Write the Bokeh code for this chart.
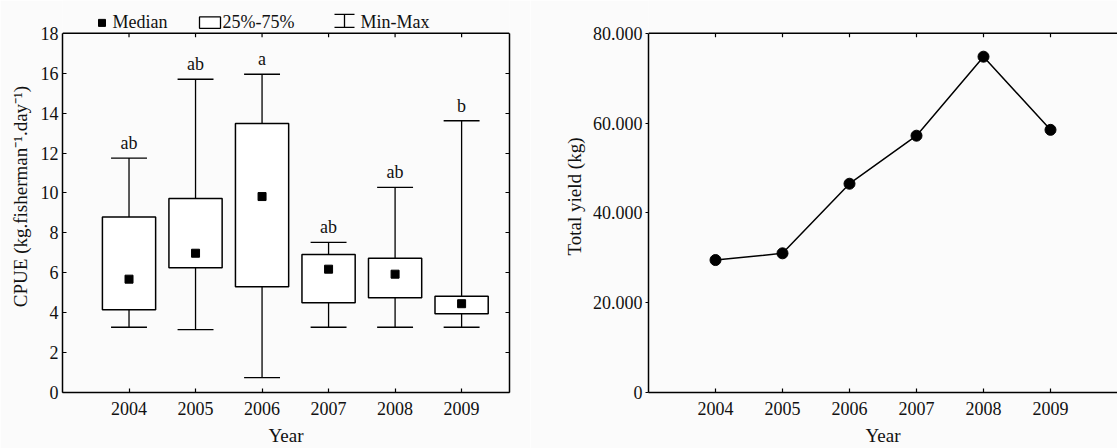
from bokeh.plotting import figure
from bokeh.models import Range1d, FixedTicker, LinearAxis, Span
from bokeh.layouts import row
from bokeh.embed import file_html
from bokeh.resources import INLINE
from bokeh.core.properties import value

# ---------------- data ----------------
years = [2004, 2005, 2006, 2007, 2008, 2009]
cpue_min = [3.27, 3.15, 0.75, 3.27, 3.27, 3.27]
cpue_q1 = [4.15, 6.25, 5.30, 4.50, 4.75, 3.95]
cpue_median = [5.68, 6.98, 9.82, 6.18, 5.93, 4.45]
cpue_q3 = [8.80, 9.72, 13.48, 6.92, 6.73, 4.82]
cpue_max = [11.75, 15.70, 15.95, 7.52, 10.28, 13.62]
groups = ["ab", "ab", "a", "ab", "ab", "b"]
cpue_ticks = [0, 2, 4, 6, 8, 10, 12, 14, 16, 18]
cpue_top = 18

total_yield = [29500, 31000, 46500, 57200, 74800, 58500]
yield_ticks = [0, 20000, 40000, 60000, 80000]
yield_tick_labels = ["0", "20.000", "40.000", "60.000", "80.000"]
yield_top = 80000

legend_labels = ["Median", "25%-75%", "Min-Max"]

FONT = "Liberation Serif"
BG = "#fbfbfb"
INK = "#111111"
TICK_FS = "18px"
LABEL_FS = "19px"

# layout geometry (pixels): frames run from the top of the canvas down to
# FRAME_H; the data box itself is closed at BOX_TOP.
FRAME_H = 394
BOX_TOP = 33
SCALE = FRAME_H / (FRAME_H - BOX_TOP)


def style_axis(ax, ticks, tin=4, tout=0, labels=True):
    ax.ticker = FixedTicker(ticks=ticks)
    ax.minor_tick_line_color = None
    ax.major_tick_in = tin
    ax.major_tick_out = tout
    ax.axis_line_color = "black"
    ax.axis_line_width = 1.5
    ax.major_tick_line_color = "black"
    ax.major_tick_line_width = 1.2
    ax.major_label_text_font = FONT
    ax.axis_label_text_font = FONT
    ax.axis_label_text_font_style = "normal"
    ax.axis_label_text_font_size = LABEL_FS
    ax.axis_label_text_color = INK
    if labels:
        ax.major_label_text_font_size = TICK_FS
        ax.major_label_text_color = INK
    else:
        ax.major_label_text_font_size = "0px"
        ax.major_label_text_color = None
        ax.major_label_standoff = 0


def close_top(p, top, tick_len):
    p.add_layout(Span(location=top, dimension="width", line_color="black", line_width=1.5))
    p.segment(x0=years, y0=[top] * len(years), x1=years, y1=[top - tick_len] * len(years),
              line_color="black", line_width=1.2)


# ---------------- left: CPUE box plot ----------------
p1 = figure(width=530, height=448, x_range=Range1d(2003, 2009.72),
            y_range=Range1d(0, cpue_top * SCALE),
            output_backend="svg", toolbar_location=None,
            min_border_left=62, min_border_right=21, min_border_top=0, min_border_bottom=54,
            background_fill_color=BG, border_fill_color=BG, outline_line_color=None)
p1.grid.visible = False
# pixel-like helper ranges for the legend row above the box
p1.extra_x_ranges = {"px": Range1d(62, 509)}
p1.extra_y_ranges = {"px": Range1d(FRAME_H, 0)}

style_axis(p1.xaxis[0], years)
p1.xaxis[0].major_label_standoff = 9
p1.xaxis[0].axis_label = "Year"
p1.xaxis[0].axis_label_standoff = 7
style_axis(p1.yaxis[0], cpue_ticks)
p1.yaxis[0].bounds = (0, cpue_top)
p1.yaxis[0].major_label_standoff = 4
p1.yaxis[0].axis_label = "CPUE (kg.fisherman\u207b\u00b9.day\u207b\u00b9)"
p1.yaxis[0].axis_label_standoff = 7
ax_r = LinearAxis()
style_axis(ax_r, cpue_ticks, labels=False)
ax_r.bounds = (0, cpue_top)
p1.add_layout(ax_r, "right")
close_top(p1, cpue_top, cpue_top * 4 / (FRAME_H - BOX_TOP))

cap = 0.27
p1.segment(x0=years, y0=cpue_min, x1=years, y1=cpue_q1, line_color="black", line_width=1.3)
p1.segment(x0=years, y0=cpue_q3, x1=years, y1=cpue_max, line_color="black", line_width=1.3)
p1.segment(x0=[y - cap for y in years], y0=cpue_min, x1=[y + cap for y in years], y1=cpue_min,
           line_color="black", line_width=1.3)
p1.segment(x0=[y - cap for y in years], y0=cpue_max, x1=[y + cap for y in years], y1=cpue_max,
           line_color="black", line_width=1.3)
p1.vbar(x=years, bottom=cpue_q1, top=cpue_q3, width=0.8, fill_color="white",
        line_color="black", line_width=1.5)
p1.scatter(x=years, y=cpue_median, marker="square", size=8, color="black")
p1.text(x=years, y=cpue_max, text=groups, text_align="center", text_baseline="bottom",
        y_offset=-5, text_font=value(FONT), text_font_size="18px", text_color=INK)

# legend row (Median / 25%-75% / Min-Max)
px = dict(x_range_name="px", y_range_name="px")
p1.scatter(x=[101.5], y=[22.5], marker="square", size=7, color="black", **px)
p1.quad(left=[199], right=[220], top=[16.5], bottom=[28], fill_color="white",
        line_color="black", line_width=1.3, **px)
p1.segment(x0=[344, 334, 334], y0=[14, 14, 27], x1=[344, 354, 354], y1=[27, 14, 27],
           line_color="black", line_width=1.3, **px)
p1.text(x=[112, 222, 360], y=[22, 22, 22], text=legend_labels, text_align="left",
        text_baseline="middle", text_font=value(FONT), text_font_size="18px",
        text_color=INK, **px)

# ---------------- right: total yield ----------------
p2 = figure(width=587, height=448, x_range=Range1d(2003, 2010),
            y_range=Range1d(0, yield_top * SCALE),
            output_backend="svg", toolbar_location=None,
            min_border_left=118, min_border_right=0, min_border_top=0, min_border_bottom=54,
            background_fill_color=BG, border_fill_color=BG, outline_line_color=None)
p2.grid.visible = False
style_axis(p2.xaxis[0], years)
p2.xaxis[0].major_label_standoff = 9
p2.xaxis[0].axis_label = "Year"
p2.xaxis[0].axis_label_standoff = 7
style_axis(p2.yaxis[0], yield_ticks, tin=0, tout=3)
p2.yaxis[0].bounds = (0, yield_top)
p2.yaxis[0].major_label_overrides = dict(zip(yield_ticks, yield_tick_labels))
p2.yaxis[0].major_label_standoff = 3
p2.yaxis[0].axis_label = "Total yield (kg)"
p2.yaxis[0].axis_label_standoff = 5
close_top(p2, yield_top, yield_top * 4 / (FRAME_H - BOX_TOP))

p2.line(x=years, y=total_yield, line_color="black", line_width=1.5)
p2.scatter(x=years, y=total_yield, marker="circle", size=11, color="black")

layout = row(p1, p2)
open("out.html", "w").write(file_html(layout, INLINE))
